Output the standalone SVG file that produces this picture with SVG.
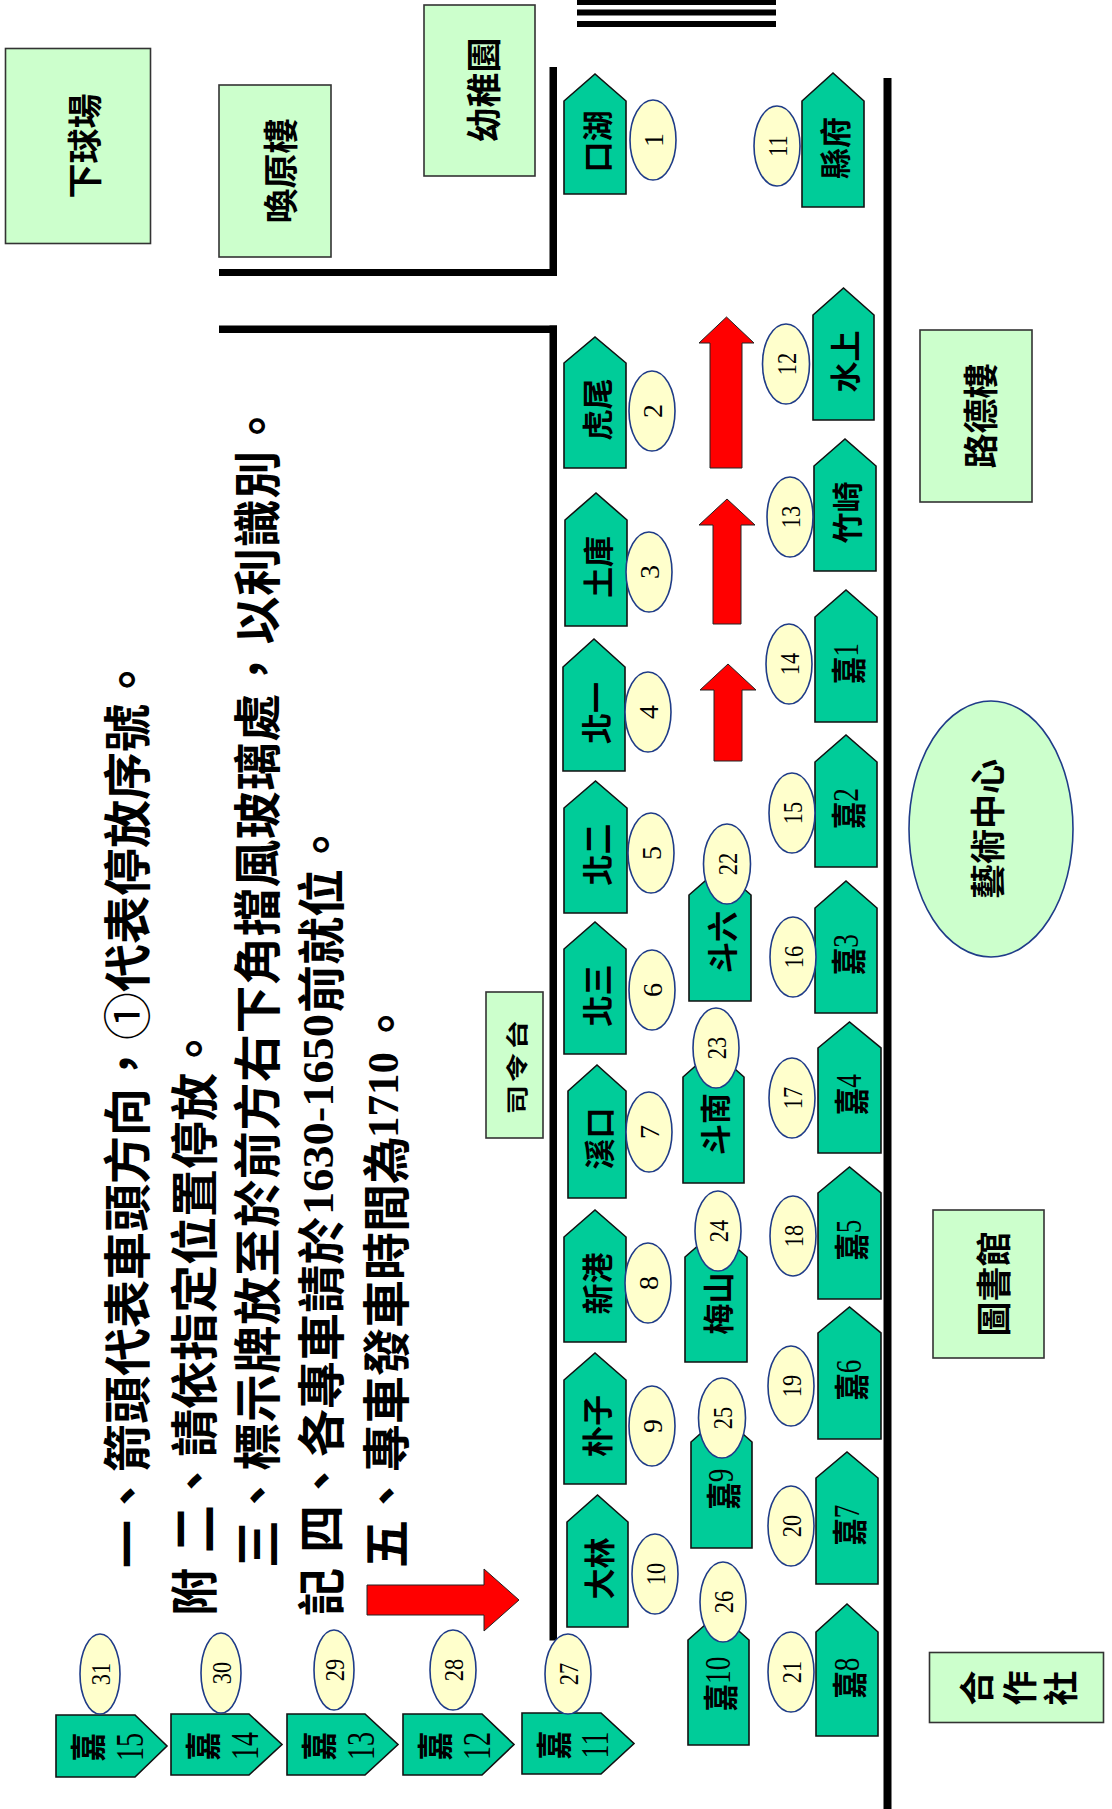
<svg xmlns="http://www.w3.org/2000/svg" width="1112" height="1809" viewBox="0 0 1112 1809">
<style>
.car{fill:#00CC99;stroke:#111;stroke-width:1.6}
.oval{fill:#FFFFCC;stroke:#1F3C88;stroke-width:1.6}
.bld{fill:#CCFFCC;stroke:#333;stroke-width:1.6}
.art{fill:#CCFFCC;stroke:#1F3C88;stroke-width:1.6}
.red{fill:#FF0000;stroke:#222;stroke-width:1}
.wall{fill:#000}
text{dominant-baseline:central;text-anchor:middle;fill:#000}
.lbl{font-family:"Noto Sans CJK TC","Noto Sans CJK SC",sans-serif;font-size:31px;font-weight:bold}
.jia{font-family:"Liberation Serif","Noto Sans CJK TC",serif;font-size:35px}
.cj{font-family:"Noto Sans CJK TC","Noto Sans CJK SC",sans-serif;font-weight:bold}
.num{font-family:"Liberation Serif",serif;font-size:28px}
.b{font-family:"Noto Sans CJK TC","Noto Sans CJK SC",sans-serif;font-size:35px;font-weight:bold}
.note{font-family:"Noto Sans CJK TC","Noto Sans CJK SC",sans-serif;font-size:48px;font-weight:bold;text-anchor:start}
.dg{font-family:"Liberation Serif",serif;font-size:44px;font-weight:bold;text-anchor:start}
</style>

<g id="walls">
<rect class="wall" x="577" y="0" width="199" height="5"/>
<rect class="wall" x="577" y="9.5" width="199" height="6"/>
<rect class="wall" x="577" y="21" width="199" height="6"/>
<rect class="wall" x="549.5" y="67" width="7.5" height="209"/>
<rect class="wall" x="219" y="269" width="338" height="7"/>
<rect class="wall" x="219" y="325.5" width="338" height="7.5"/>
<rect class="wall" x="549.5" y="325.5" width="7.5" height="1315"/>
<rect class="wall" x="883.5" y="78" width="8" height="1731"/>
</g>

<g id="buildings">
<g id="b-xiaqiuchang"><rect class="bld" x="5.5" y="48.5" width="145" height="195"/><text class="b" transform="translate(82,146) rotate(-90)">下球場</text></g>
<g id="b-huanyuanlou"><rect class="bld" x="219" y="85" width="112" height="172"/><text class="b" transform="translate(278,171) rotate(-90)">喚原樓</text></g>
<g id="b-youzhiyuan"><rect class="bld" x="424" y="5" width="111" height="171"/><text class="b" transform="translate(481,90) rotate(-90)">幼稚園</text></g>
<g id="b-ludelou"><rect class="bld" x="920" y="330" width="112" height="172"/><text class="b" transform="translate(978,416) rotate(-90)">路德樓</text></g>
<g id="b-yishu"><ellipse class="art" cx="991" cy="829" rx="82" ry="128"/><text class="b" transform="translate(985,829) rotate(-90)">藝術中心</text></g>
<g id="b-tushuguan"><rect class="bld" x="933" y="1210" width="111" height="148"/><text class="b" transform="translate(991,1284) rotate(-90)">圖書館</text></g>
<g id="b-hezuoshe"><rect class="bld" x="929.5" y="1652.5" width="174" height="70"/>
<text class="b" transform="translate(974,1688) rotate(-90)">合</text>
<text class="b" transform="translate(1017,1688) rotate(-90)">作</text>
<text class="b" transform="translate(1058,1688) rotate(-90)">社</text></g>
<g id="b-silingtai"><rect class="bld" x="486" y="992" width="57" height="146"/><text class="lbl" style="font-size:22px;letter-spacing:2px" transform="translate(516,1066) rotate(-90) scale(1.35,1)">司令台</text></g>
</g>

<g id="connectors">
<path class="red" d="M710,468 L710,343 L699,343 L726.5,317 L754,343 L742,343 L742,468 Z"/>
<path class="red" d="M713,624 L713,525 L699,525 L727,499 L755,525 L741,525 L741,624 Z"/>
<path class="red" d="M714,761 L714,690 L700,690 L728,664 L756,690 L742,690 L742,761 Z"/>
<path class="red" d="M367,1585 L484,1585 L484,1569 L519,1600 L484,1631 L484,1615 L367,1615 Z"/>
</g>

<g id="cars">
<g id="car1"><path class="car" d="M564,101 L595,74 L626,101 L626,194 L564,194 Z"/><text class="lbl" transform="translate(595,141.5) rotate(-90)">口湖</text><ellipse class="oval" cx="653" cy="140" rx="23" ry="40"/><text class="num" transform="translate(653,140) rotate(-90)">1</text></g>
<g id="car2"><path class="car" d="M564,363 L595,337 L626,363 L626,468 L564,468 Z"/><text class="lbl" transform="translate(595,409.5) rotate(-90)">虎尾</text><ellipse class="oval" cx="652" cy="411" rx="23" ry="40"/><text class="num" transform="translate(652,411) rotate(-90)">2</text></g>
<g id="car3"><path class="car" d="M565,520 L596,493 L627,520 L627,626 L565,626 Z"/><text class="lbl" transform="translate(596,567) rotate(-90)">土庫</text><ellipse class="oval" cx="649" cy="572" rx="23" ry="40"/><text class="num" transform="translate(649,572) rotate(-90)">3</text></g>
<g id="car4"><path class="car" d="M563,667 L594,639 L625,667 L625,771 L563,771 Z"/><text class="lbl" transform="translate(594,713) rotate(-90)">北一</text><ellipse class="oval" cx="648" cy="712" rx="23" ry="40"/><text class="num" transform="translate(648,712) rotate(-90)">4</text></g>
<g id="car5"><path class="car" d="M564,808 L595.5,781 L627,808 L627,913 L564,913 Z"/><text class="lbl" transform="translate(595.5,854.5) rotate(-90)">北二</text><ellipse class="oval" cx="651" cy="853" rx="23" ry="40"/><text class="num" transform="translate(651,853) rotate(-90)">5</text></g>
<g id="car6"><path class="car" d="M564,949 L595,922 L626,949 L626,1054 L564,1054 Z"/><text class="lbl" transform="translate(595,995.5) rotate(-90)">北三</text><ellipse class="oval" cx="652" cy="990" rx="23" ry="40"/><text class="num" transform="translate(652,990) rotate(-90)">6</text></g>
<g id="car7"><path class="car" d="M568,1091 L597,1065 L626,1091 L626,1198 L568,1198 Z"/><text class="lbl" transform="translate(597,1138.5) rotate(-90)">溪口</text><ellipse class="oval" cx="649" cy="1132" rx="23" ry="40"/><text class="num" transform="translate(649,1132) rotate(-90)">7</text></g>
<g id="car8"><path class="car" d="M564,1237 L595,1210 L626,1237 L626,1342 L564,1342 Z"/><text class="lbl" transform="translate(595,1283.5) rotate(-90)">新港</text><ellipse class="oval" cx="648" cy="1283" rx="23" ry="40"/><text class="num" transform="translate(648,1283) rotate(-90)">8</text></g>
<g id="car9"><path class="car" d="M564,1380 L595,1353 L626,1380 L626,1484 L564,1484 Z"/><text class="lbl" transform="translate(595,1426) rotate(-90)">朴子</text><ellipse class="oval" cx="652" cy="1426" rx="23" ry="40"/><text class="num" transform="translate(652,1426) rotate(-90)">9</text></g>
<g id="car10"><path class="car" d="M567,1522 L597.5,1495 L628,1522 L628,1627 L567,1627 Z"/><text class="lbl" transform="translate(597.5,1568.5) rotate(-90)">大林</text><ellipse class="oval" cx="655" cy="1574" rx="23" ry="40"/><text class="num" transform="translate(655,1574) rotate(-90) scale(0.8,1)">10</text></g>

<g id="car11"><path class="car" d="M802,101 L833,73 L864,101 L864,207 L802,207 Z"/><text class="lbl" transform="translate(833,148) rotate(-90)">縣府</text><ellipse class="oval" cx="777" cy="146" rx="23" ry="40"/><text class="num" transform="translate(777,146) rotate(-90) scale(0.8,1)">11</text></g>
<g id="car12"><path class="car" d="M813,315 L843.5,288 L874,315 L874,420 L813,420 Z"/><text class="lbl" transform="translate(843.5,361.5) rotate(-90)">水上</text><ellipse class="oval" cx="786" cy="364" rx="23.5" ry="40"/><text class="num" transform="translate(786,364) rotate(-90) scale(0.8,1)">12</text></g>
<g id="car13"><path class="car" d="M814,466 L845,439 L876,466 L876,571 L814,571 Z"/><text class="lbl" transform="translate(845,512.5) rotate(-90)">竹崎</text><ellipse class="oval" cx="790" cy="517" rx="23" ry="40"/><text class="num" transform="translate(790,517) rotate(-90) scale(0.8,1)">13</text></g>
<g id="car14"><path class="car" d="M815,617 L846,590 L877,617 L877,722 L815,722 Z"/><text class="jia" transform="translate(846,663.5) rotate(-90) scale(0.78,1)"><tspan class="cj">嘉</tspan>1</text><ellipse class="oval" cx="789" cy="664" rx="23" ry="40"/><text class="num" transform="translate(789,664) rotate(-90) scale(0.8,1)">14</text></g>
<g id="car15"><path class="car" d="M815,762 L846,735 L877,762 L877,867 L815,867 Z"/><text class="jia" transform="translate(846,808.5) rotate(-90) scale(0.78,1)"><tspan class="cj">嘉</tspan>2</text><ellipse class="oval" cx="792" cy="813" rx="23" ry="40"/><text class="num" transform="translate(792,813) rotate(-90) scale(0.8,1)">15</text></g>
<g id="car16"><path class="car" d="M815,908 L846,881 L877,908 L877,1013 L815,1013 Z"/><text class="jia" transform="translate(846,954.5) rotate(-90) scale(0.78,1)"><tspan class="cj">嘉</tspan>3</text><ellipse class="oval" cx="793" cy="957" rx="23" ry="40"/><text class="num" transform="translate(793,957) rotate(-90) scale(0.8,1)">16</text></g>
<g id="car17"><path class="car" d="M818,1048 L849.5,1022 L881,1048 L881,1153 L818,1153 Z"/><text class="jia" transform="translate(849.5,1094.5) rotate(-90) scale(0.78,1)"><tspan class="cj">嘉</tspan>4</text><ellipse class="oval" cx="792" cy="1098" rx="23" ry="40"/><text class="num" transform="translate(792,1098) rotate(-90) scale(0.8,1)">17</text></g>
<g id="car18"><path class="car" d="M818,1193 L849.5,1167 L881,1193 L881,1299 L818,1299 Z"/><text class="jia" transform="translate(849.5,1240) rotate(-90) scale(0.78,1)"><tspan class="cj">嘉</tspan>5</text><ellipse class="oval" cx="793" cy="1236" rx="23" ry="40"/><text class="num" transform="translate(793,1236) rotate(-90) scale(0.8,1)">18</text></g>
<g id="car19"><path class="car" d="M818,1333 L849.5,1307 L881,1333 L881,1439 L818,1439 Z"/><text class="jia" transform="translate(849.5,1380) rotate(-90) scale(0.78,1)"><tspan class="cj">嘉</tspan>6</text><ellipse class="oval" cx="791" cy="1386" rx="23" ry="40"/><text class="num" transform="translate(791,1386) rotate(-90) scale(0.8,1)">19</text></g>
<g id="car20"><path class="car" d="M816,1478 L847,1452 L878,1478 L878,1584 L816,1584 Z"/><text class="jia" transform="translate(847,1525) rotate(-90) scale(0.78,1)"><tspan class="cj">嘉</tspan>7</text><ellipse class="oval" cx="791" cy="1526" rx="23" ry="40"/><text class="num" transform="translate(791,1526) rotate(-90) scale(0.8,1)">20</text></g>
<g id="car21"><path class="car" d="M816,1632 L847,1604 L878,1632 L878,1736 L816,1736 Z"/><text class="jia" transform="translate(847,1678) rotate(-90) scale(0.78,1)"><tspan class="cj">嘉</tspan>8</text><ellipse class="oval" cx="791" cy="1672" rx="23" ry="40"/><text class="num" transform="translate(791,1672) rotate(-90) scale(0.8,1)">21</text></g>

<g id="car22"><path class="car" d="M689,895 L720,868 L751,895 L751,1001 L689,1001 Z"/><text class="lbl" transform="translate(720,942) rotate(-90)">斗六</text><ellipse class="oval" cx="727" cy="864" rx="23.5" ry="40"/><text class="num" transform="translate(727,864) rotate(-90) scale(0.8,1)">22</text></g>
<g id="car23"><path class="car" d="M683,1077 L713.5,1050 L744,1077 L744,1183 L683,1183 Z"/><text class="lbl" transform="translate(713.5,1124) rotate(-90)">斗南</text><ellipse class="oval" cx="716" cy="1048" rx="23" ry="40"/><text class="num" transform="translate(716,1048) rotate(-90) scale(0.8,1)">23</text></g>
<g id="car24"><path class="car" d="M685,1257 L716,1230 L747,1257 L747,1362 L685,1362 Z"/><text class="lbl" transform="translate(716,1303.5) rotate(-90)">梅山</text><ellipse class="oval" cx="718" cy="1231" rx="23" ry="40"/><text class="num" transform="translate(718,1231) rotate(-90) scale(0.8,1)">24</text></g>
<g id="car25"><path class="car" d="M691,1442 L721.5,1415 L752,1442 L752,1548 L691,1548 Z"/><text class="jia" transform="translate(721.5,1489) rotate(-90) scale(0.78,1)"><tspan class="cj">嘉</tspan>9</text><ellipse class="oval" cx="722" cy="1418" rx="23.5" ry="40"/><text class="num" transform="translate(722,1418) rotate(-90) scale(0.8,1)">25</text></g>
<g id="car26"><path class="car" d="M688,1640 L718.5,1613 L749,1640 L749,1745 L688,1745 Z"/><text class="jia" transform="translate(718.5,1684) rotate(-90) scale(0.78,1)"><tspan class="cj">嘉</tspan>10</text><ellipse class="oval" cx="723" cy="1602" rx="23" ry="40"/><text class="num" transform="translate(723,1602) rotate(-90) scale(0.8,1)">26</text></g>

<g id="car27"><path class="car" d="M522,1713 L601,1713 L634,1743.5 L601,1774 L522,1774 Z"/><text class="jia" style="font-size:36px" transform="translate(551,1745) rotate(-90) scale(0.8,1)"><tspan class="cj">嘉</tspan></text><text class="jia" style="font-size:39px" transform="translate(595,1745) rotate(-90) scale(0.72,1)">11</text><ellipse class="oval" cx="568" cy="1674" rx="23" ry="40"/><text class="num" transform="translate(568,1674) rotate(-90) scale(0.8,1)">27</text></g>
<g id="car28"><path class="car" d="M403,1714 L482,1714 L514,1744.5 L482,1775 L403,1775 Z"/><text class="jia" style="font-size:36px" transform="translate(432,1746) rotate(-90) scale(0.8,1)"><tspan class="cj">嘉</tspan></text><text class="jia" style="font-size:39px" transform="translate(477,1746) rotate(-90) scale(0.72,1)">12</text><ellipse class="oval" cx="453" cy="1670" rx="23" ry="40"/><text class="num" transform="translate(453,1670) rotate(-90) scale(0.8,1)">28</text></g>
<g id="car29"><path class="car" d="M287,1714 L365,1714 L398,1744.5 L365,1775 L287,1775 Z"/><text class="jia" style="font-size:36px" transform="translate(316,1746) rotate(-90) scale(0.8,1)"><tspan class="cj">嘉</tspan></text><text class="jia" style="font-size:39px" transform="translate(361,1746) rotate(-90) scale(0.72,1)">13</text><ellipse class="oval" cx="334" cy="1670" rx="20" ry="40"/><text class="num" transform="translate(334,1670) rotate(-90) scale(0.8,1)">29</text></g>
<g id="car30"><path class="car" d="M171,1714 L249,1714 L282,1744.5 L249,1775 L171,1775 Z"/><text class="jia" style="font-size:36px" transform="translate(200,1746) rotate(-90) scale(0.8,1)"><tspan class="cj">嘉</tspan></text><text class="jia" style="font-size:39px" transform="translate(245,1746) rotate(-90) scale(0.72,1)">14</text><ellipse class="oval" cx="221" cy="1673" rx="20" ry="40"/><text class="num" transform="translate(221,1673) rotate(-90) scale(0.8,1)">30</text></g>
<g id="car31"><path class="car" d="M56,1715 L135,1715 L167,1746 L135,1777 L56,1777 Z"/><text class="jia" style="font-size:36px" transform="translate(85,1747) rotate(-90) scale(0.8,1)"><tspan class="cj">嘉</tspan></text><text class="jia" style="font-size:39px" transform="translate(130,1747) rotate(-90) scale(0.72,1)">15</text><ellipse class="oval" cx="100" cy="1674" rx="20" ry="40"/><text class="num" transform="translate(100,1674) rotate(-90) scale(0.8,1)">31</text></g>
</g>

<g id="notes">
<text class="note" transform="translate(124,1568) rotate(-90)">一、箭頭代表車頭方向，<tspan style="font-weight:normal">①</tspan>代表停放序號。</text>
<text class="note" style="text-anchor:middle" transform="translate(191,1592) rotate(-90)">附</text>
<text class="note" transform="translate(191,1553) rotate(-90)">二、請依指定位置停放。</text>
<text class="note" style="letter-spacing:0.6px" transform="translate(254,1568) rotate(-90)">三、標示牌放至於前方右下角擋風玻璃處，以利識別。</text>
<text class="note" style="text-anchor:middle" transform="translate(318,1592) rotate(-90)">記</text>
<text class="note" transform="translate(318,1553) rotate(-90)">四、各專車請於</text>
<text class="dg" transform="translate(318,1215) rotate(-90)" textLength="201" lengthAdjust="spacingAndGlyphs">1630-1650</text>
<text class="note" transform="translate(318,1013) rotate(-90)">前就位。</text>
<text class="note" transform="translate(383,1568) rotate(-90)">五、專車發車時間為</text>
<text class="dg" transform="translate(383,1138) rotate(-90)" textLength="86" lengthAdjust="spacingAndGlyphs">1710</text>
<text class="note" transform="translate(383,1048) rotate(-90)">。</text>
</g>
</svg>
